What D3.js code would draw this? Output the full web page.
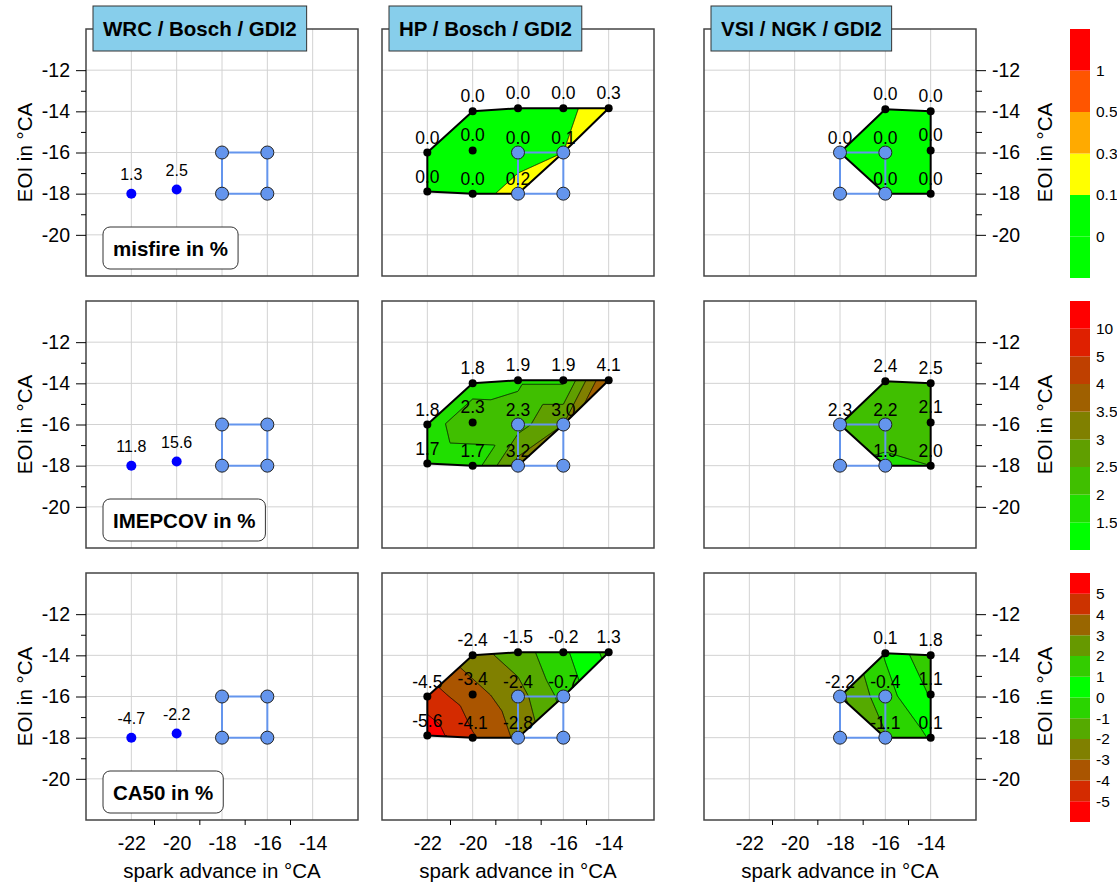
<!DOCTYPE html>
<html lang="en">
<head>
<meta charset="UTF-8">
<title>Misfire, IMEPCOV and CA50 maps</title>
<script src="https://d3js.org/d3.v7.min.js"></script>
<style>
  body { margin: 0; background: white; }
  svg text { font-family: "Liberation Sans", Arial, sans-serif; fill: #000; }
  .grid line { stroke: #d2d2d2; stroke-width: 1; }
  .tick text { font-size: 19.5px; }
  .axis-title { font-size: 20.5px; }
  .val { font-size: 17.5px; }
  .val-small { font-size: 16px; }
  .box-label { font-size: 20.5px; font-weight: bold; }
  .cb-label { font-size: 15.5px; }
</style>
</head>
<body>
<svg id="chart" width="1117" height="883"></svg>
<script>
// axes
const xTicks = [-22, -20, -18, -16, -14];
const xMinor = [-21, -19, -17, -15];
const yTicks = [-12, -14, -16, -18, -20];
const yMinor = [-13, -15, -17, -19];

const panelTitles = ["WRC / Bosch / GDI2", "HP / Bosch / GDI2", "VSI / NGK / GDI2"];
const metricNames = ["misfire in %", "IMEPCOV in %", "CA50 in %"];

// WRC: two operating points
const wrcSpark = [-22, -20];
const wrcEoi = [-18, -17.8];
const wrcMisfire = [1.3, 2.5];
const wrcImepcov = [11.8, 15.6];
const wrcCa50 = [-4.7, -2.2];

// HP / Bosch
const hpSpark = [-22, -20, -18, -16, -14, -20, -18, -16, -22, -20, -18];
const hpEoi = [-16, -14, -13.85, -13.85, -13.85, -15.9, -16, -16, -17.9, -18, -18];
const hpMisfire = [0.0, 0.0, 0.0, 0.0, 0.3, 0.0, 0.0, 0.1, 0.0, 0.0, 0.2];
const hpImepcov = [1.8, 1.8, 1.9, 1.9, 4.1, 2.3, 2.3, 3.0, 1.7, 1.7, 3.2];
const hpCa50 = [-4.5, -2.4, -1.5, -0.2, 1.3, -3.4, -2.4, -0.7, -5.6, -4.1, -2.8];

// VSI / NGK
const vsiSpark = [-16, -14, -18, -16, -14, -16, -14];
const vsiEoi = [-13.9, -14, -16, -16, -15.9, -18, -18];
const vsiMisfire = [0.0, 0.0, 0.0, 0.0, 0.0, 0.0, 0.0];
const vsiImepcov = [2.4, 2.5, 2.3, 2.2, 2.1, 1.9, 2.0];
const vsiCa50 = [0.1, 1.8, -2.2, -0.4, 1.1, -1.1, 0.1];

// reference window (blue square)
const refSpark = [-18, -16, -16, -18];
const refEoi = [-16, -16, -18, -18];

// colour bar levels
const misfireLevels = [0, 0.1, 0.3, 0.5, 1];
const imepcovLevels = [1.5, 2, 2.5, 3, 3.5, 4, 5, 10];
const ca50Levels = [-5, -4, -3, -2, -1, 0, 1, 2, 3, 4, 5];

// colours, bottom band to top band
const misfireColors = ["#00ff00", "#00ff00", "#ffff00", "#ffaa00", "#ff5500", "#ff0000"];
const imepcovColors = d3.range(9).map(i => d3.rgb(Math.round(255 * i / 8), Math.round(255 * (1 - i / 8)), 0).formatHex());
const ca50Colors = ["#ff0000", "#d42b00", "#aa5500", "#808000", "#55aa00", "#2ad400",
                    "#00ff00", "#33cc00", "#669900", "#996600", "#cc3300", "#ff0000"];

const metrics = [
  { levels: misfireLevels, colors: misfireColors, wrc: wrcMisfire, hp: hpMisfire, vsi: vsiMisfire },
  { levels: imepcovLevels, colors: imepcovColors, wrc: wrcImepcov, hp: hpImepcov, vsi: vsiImepcov },
  { levels: ca50Levels, colors: ca50Colors, wrc: wrcCa50, hp: hpCa50, vsi: vsiCa50 }
];

const svg = d3.select("#chart");
const colX = [86, 382, 704];
const rowY = [29, 301, 573];
const pw = 272, ph = 247;

const x = d3.scaleLinear().domain([-24, -12]).range([0, pw]);
const y = d3.scaleLinear().domain([-22, -10]).range([ph, 0]);

// linear interpolation on the delaunay triangles, nearest point outside
function interpolateGrid(px, py, vals, nx, ny) {
  const delaunay = d3.Delaunay.from(px.map((v, i) => [v, py[i]]));
  const tri = delaunay.triangles;
  const grid = new Float64Array(nx * ny);
  for (let j = 0; j < ny; j++) {
    for (let i = 0; i < nx; i++) {
      const qx = i + 0.5, qy = j + 0.5;
      let v = null;
      for (let t = 0; t < tri.length; t += 3) {
        const a = tri[t], b = tri[t + 1], c = tri[t + 2];
        const det = (py[b] - py[c]) * (px[a] - px[c]) + (px[c] - px[b]) * (py[a] - py[c]);
        const l1 = ((py[b] - py[c]) * (qx - px[c]) + (px[c] - px[b]) * (qy - py[c])) / det;
        const l2 = ((py[c] - py[a]) * (qx - px[c]) + (px[a] - px[c]) * (qy - py[c])) / det;
        const l3 = 1 - l1 - l2;
        if (l1 >= -1e-9 && l2 >= -1e-9 && l3 >= -1e-9) {
          v = l1 * vals[a] + l2 * vals[b] + l3 * vals[c];
          break;
        }
      }
      if (v === null) v = vals[delaunay.find(qx, qy)];
      grid[j * nx + i] = v;
    }
  }
  return { grid, delaunay };
}

// white/blue box with bold text, width fitted to the text
function textBox(parent, label, bx, by, bh, fill, rx) {
  const bg = parent.append("g");
  const rect = bg.append("rect");
  const t = bg.append("text").attr("class", "box-label")
    .attr("x", bx + 10).attr("y", by + bh / 2 + 7.5).text(label);
  const w = t.node().getComputedTextLength();
  rect.attr("x", bx).attr("y", by).attr("width", w + 20).attr("height", bh)
    .attr("rx", rx).attr("fill", fill).attr("stroke", "#333").attr("stroke-width", 1);
}

function drawPanel(r, c) {
  const m = metrics[r];
  const g = svg.append("g").attr("transform", `translate(${colX[c]},${rowY[r]})`);

  g.append("rect").attr("width", pw).attr("height", ph).attr("fill", "white");

  const grid = g.append("g").attr("class", "grid");
  grid.selectAll("line.v").data(xTicks).join("line").attr("class", "v")
    .attr("x1", d => x(d)).attr("x2", d => x(d)).attr("y1", 0).attr("y2", ph);
  grid.selectAll("line.h").data(yTicks).join("line").attr("class", "h")
    .attr("x1", 0).attr("x2", pw).attr("y1", d => y(d)).attr("y2", d => y(d));

  let sx, ey, vals;
  if (c === 0) {
    sx = wrcSpark; ey = wrcEoi; vals = m.wrc;
  } else if (c === 1) {
    sx = hpSpark; ey = hpEoi; vals = m.hp;
  } else {
    sx = vsiSpark; ey = vsiEoi; vals = m.vsi;
  }
  const px = sx.map(x), py = ey.map(y);

  if (c > 0) {
    const { grid: values, delaunay } = interpolateGrid(px, py, vals, pw, ph);
    const hull = delaunay.hullPolygon();
    const id = "hull" + r + c;
    g.append("clipPath").attr("id", id)
      .append("path").attr("d", "M" + hull.join("L") + "Z");

    const band = d3.scaleThreshold().domain(m.levels).range(m.colors);
    const contours = d3.contours().size([pw, ph]).thresholds(m.levels)(values);
    const path = d3.geoPath();

    const cg = g.append("g").attr("clip-path", `url(#${id})`);
    cg.append("rect").attr("width", pw).attr("height", ph).attr("fill", m.colors[0]);
    cg.selectAll("path.fill").data(contours).join("path").attr("class", "fill")
      .attr("d", path).attr("fill", d => band(d.value));
    cg.selectAll("path.iso").data(contours).join("path").attr("class", "iso")
      .attr("d", path).attr("fill", "none").attr("stroke", "#000").attr("stroke-width", 0.8);

    g.append("path").attr("d", "M" + hull.join("L") + "Z")
      .attr("fill", "none").attr("stroke", "#000").attr("stroke-width", 2)
      .attr("stroke-linejoin", "round");

    g.selectAll("circle.pt").data(px).join("circle").attr("class", "pt")
      .attr("cx", d => d).attr("cy", (d, i) => py[i]).attr("r", 4).attr("fill", "#000");
  } else {
    g.selectAll("circle.pt").data(px).join("circle").attr("class", "pt")
      .attr("cx", d => d).attr("cy", (d, i) => py[i]).attr("r", 5).attr("fill", "#0000ff");
  }

  // reference square
  const sq = refSpark.map((s, i) => [x(s), y(refEoi[i])]);
  g.append("path").attr("d", d3.line()(sq) + "Z")
    .attr("fill", "none").attr("stroke", "#6495ed").attr("stroke-width", 2);
  g.selectAll("circle.ref").data(sq).join("circle").attr("class", "ref")
    .attr("cx", d => d[0]).attr("cy", d => d[1]).attr("r", 6.5)
    .attr("fill", "#6495ed").attr("stroke", "#222").attr("stroke-width", 1);

  // value labels
  g.selectAll("text.val").data(vals).join("text")
    .attr("class", c === 0 ? "val-small" : "val")
    .attr("x", (d, i) => px[i])
    .attr("y", (d, i) => py[i] - (c === 0 ? 14 : 9))
    .attr("text-anchor", "middle")
    .text(d => d.toFixed(1));

  if (c === 0) textBox(g, metricNames[r], 17, ph - 49, 42, "white", 7);

  g.append("rect").attr("width", pw).attr("height", ph)
    .attr("fill", "none").attr("stroke", "#444").attr("stroke-width", 1.5);

  // axes
  if (c === 0) {
    const ax = g.append("g")
      .call(d3.axisLeft(y).tickValues(yTicks).tickSize(10).tickPadding(6).tickFormat(d => String(d)));
    ax.select(".domain").remove();
    g.append("g").call(d3.axisLeft(y).tickValues(yMinor).tickSize(5).tickFormat(""))
      .select(".domain").remove();
    svg.append("text").attr("class", "axis-title")
      .attr("transform", `translate(32,${rowY[r] + ph / 2}) rotate(-90)`)
      .attr("text-anchor", "middle").text("EOI in °CA");
  }
  if (c === 2) {
    const ax = g.append("g").attr("transform", `translate(${pw},0)`)
      .call(d3.axisRight(y).tickValues(yTicks).tickSize(10).tickPadding(6).tickFormat(d => String(d)));
    ax.select(".domain").remove();
    g.append("g").attr("transform", `translate(${pw},0)`)
      .call(d3.axisRight(y).tickValues(yMinor).tickSize(6).tickFormat(""))
      .select(".domain").remove();
    svg.append("text").attr("class", "axis-title")
      .attr("transform", `translate(1052,${rowY[r] + ph / 2}) rotate(-90)`)
      .attr("text-anchor", "middle").text("EOI in °CA");
  }
  if (r === 2) {
    const ax = g.append("g").attr("transform", `translate(0,${ph})`)
      .call(d3.axisBottom(x).tickValues(xTicks).tickSize(0).tickPadding(16).tickFormat(d => String(d)));
    ax.select(".domain").remove();
    g.append("g").attr("transform", `translate(0,${ph})`)
      .call(d3.axisBottom(x).tickValues(xMinor).tickSize(5).tickFormat(""))
      .select(".domain").remove();
    svg.append("text").attr("class", "axis-title")
      .attr("x", colX[c] + pw / 2).attr("y", 878)
      .attr("text-anchor", "middle").text("spark advance in °CA");
  }

  if (r === 0) textBox(svg, panelTitles[c], colX[c] + 7, 6, 45, "#87ceeb", 0);
}

function drawColorbar(r) {
  const m = metrics[r];
  const n = m.colors.length;
  const cy = d3.scaleLinear().domain([0, n]).range([rowY[r] + 249, rowY[r]]);
  const cb = svg.append("g");
  cb.selectAll("rect").data(m.colors).join("rect")
    .attr("x", 1070).attr("width", 20)
    .attr("y", (d, i) => cy(i + 1)).attr("height", (d, i) => cy(i) - cy(i + 1))
    .attr("fill", d => d);
  cb.selectAll("text").data(m.levels).join("text").attr("class", "cb-label")
    .attr("x", 1096).attr("y", (d, i) => cy(i + 1)).attr("dy", "0.35em")
    .text(d => String(d));
}

for (let r = 0; r < 3; r++) {
  for (let c = 0; c < 3; c++) drawPanel(r, c);
  drawColorbar(r);
}
</script>
</body>
</html>
